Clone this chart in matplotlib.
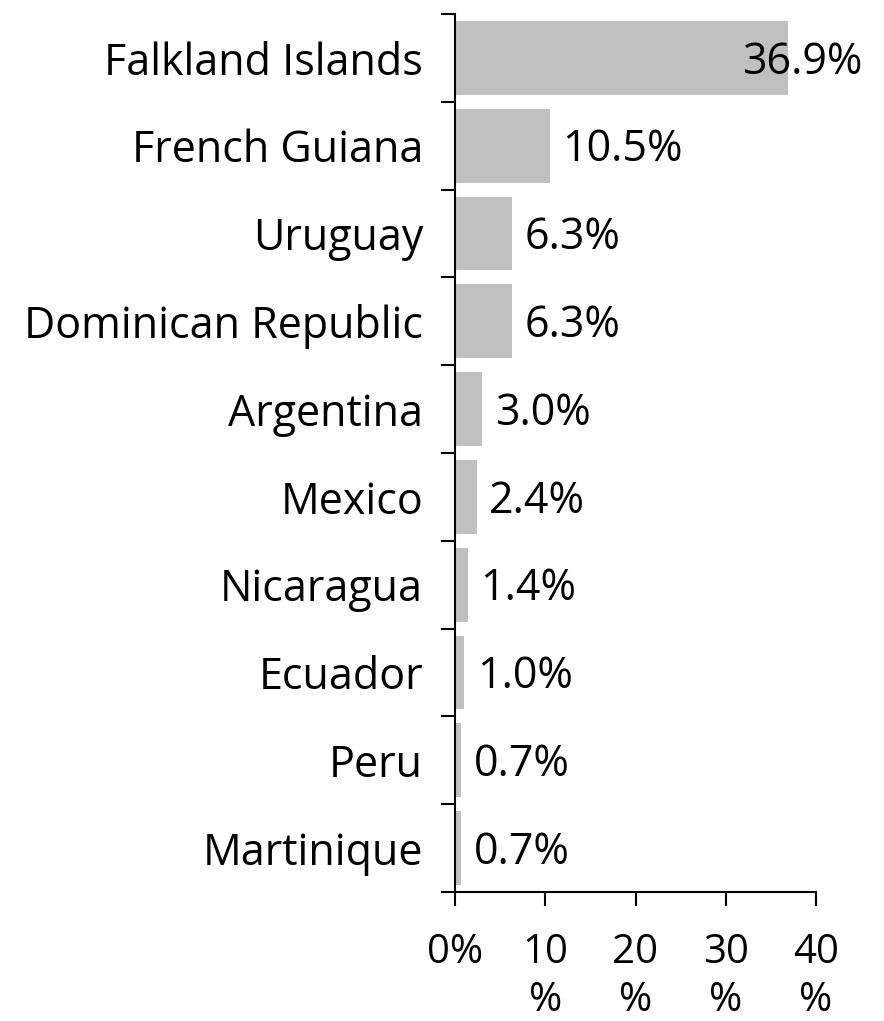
import matplotlib
matplotlib.use("Agg")
import matplotlib.pyplot as plt
import numpy as np

countries = ["Falkland Islands", "French Guiana", "Uruguay", "Dominican Republic",
             "Argentina", "Mexico", "Nicaragua", "Ecuador", "Peru", "Martinique"]
values = [36.9, 10.5, 6.3, 6.3, 3.0, 2.4, 1.4, 1.0, 0.7, 0.7]
xticks = [0, 10, 20, 30, 40]
xticklabels = ["0%", "10\n%", "20\n%", "30\n%", "40\n%"]

plt.rcParams['font.family'] = ['Open Sans', 'DejaVu Sans']

fig = plt.figure(figsize=(8.84, 10.21), dpi=100)
ax = fig.add_axes([455/884, 1-892/1021, (816-455)/884, (892-14)/1021])

y = np.arange(len(countries))
ax.barh(y, values, height=0.84, color="#c0c0c0")
ax.set_ylim(len(countries)-0.5, -0.5)
ax.set_xlim(0, 40)

ax.set_yticks(y)
ax.set_yticklabels(countries, fontsize=31)
ax.set_yticks(np.arange(-0.5, len(countries)), minor=True)
ax.tick_params(axis='y', which='major', length=0, pad=23)
ax.tick_params(axis='y', which='minor', length=10, width=1.5, direction='out')

ax.set_xticks(xticks)
ax.set_xticklabels(xticklabels, fontsize=29, linespacing=1.25)
ax.tick_params(axis='x', which='major', length=10, width=1.5, pad=19)

for s in ['top', 'right']:
    ax.spines[s].set_visible(False)
for s in ['left', 'bottom']:
    ax.spines[s].set_linewidth(1.5)

limit = 45.1
for yi, v in zip(y, values):
    txt = f"{v:.1f}%"
    if v + 1.5 + 8 > limit:
        ax.text(limit, yi + 0.05, txt, ha='right', va='center', fontsize=31, clip_on=False)
    else:
        ax.text(v + 1.4, yi + 0.05, txt, ha='left', va='center', fontsize=31, clip_on=False)

fig.savefig("out.png", dpi=100)
